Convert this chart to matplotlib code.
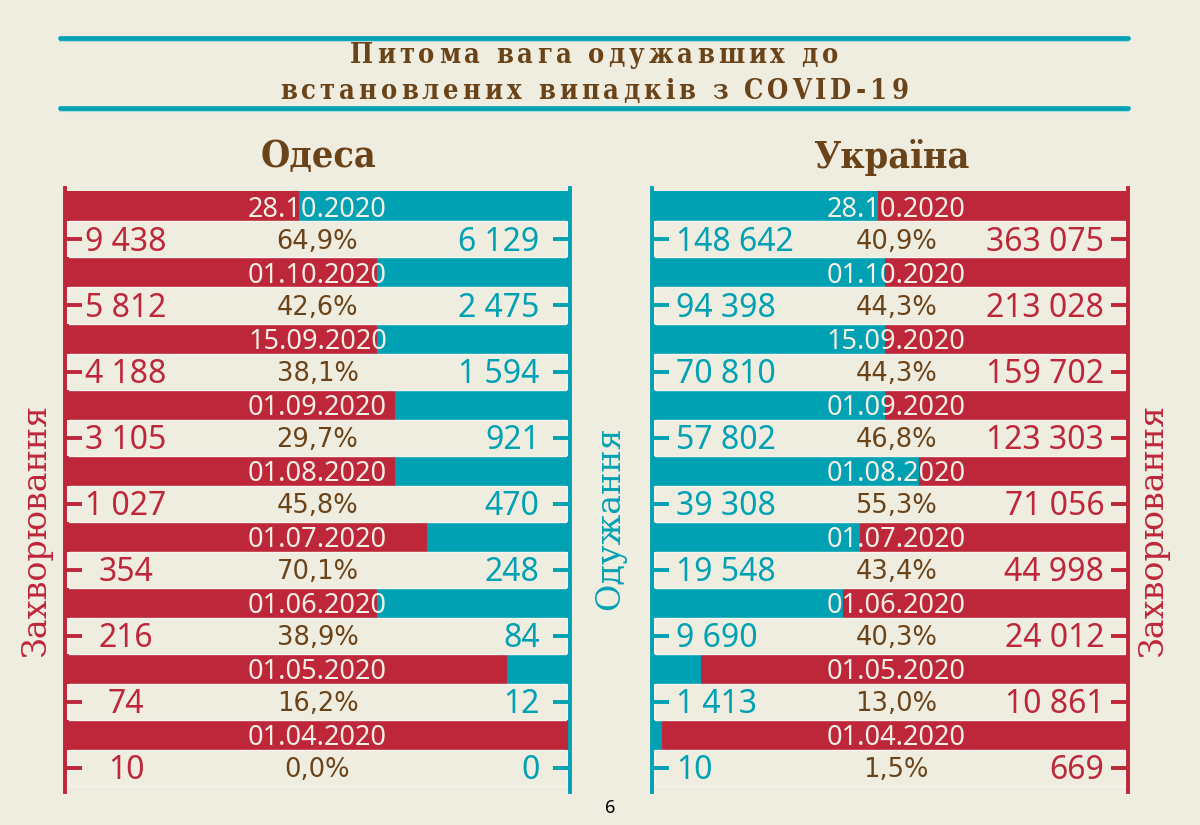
import matplotlib
matplotlib.use('Agg')
import matplotlib.pyplot as plt
import numpy as np
from matplotlib.font_manager import FontProperties
from matplotlib.transforms import IdentityTransform

# ---------------- data ----------------
dates = ['28.10.2020', '01.10.2020', '15.09.2020', '01.09.2020', '01.08.2020',
         '01.07.2020', '01.06.2020', '01.05.2020', '01.04.2020']

odesa_cases = [9438, 5812, 4188, 3105, 1027, 354, 216, 74, 10]
odesa_recovered = [6129, 2475, 1594, 921, 470, 248, 84, 12, 0]
odesa_pct = [64.9, 42.6, 38.1, 29.7, 45.8, 70.1, 38.9, 16.2, 0.0]
odesa_bar_red_share = [0.463, 0.617, 0.617, 0.653, 0.653, 0.716, 0.617, 0.875, 1.0]

ukraine_cases = [363075, 213028, 159702, 123303, 71056, 44998, 24012, 10861, 669]
ukraine_recovered = [148642, 94398, 70810, 57802, 39308, 19548, 9690, 1413, 10]
ukraine_pct = [40.9, 44.3, 44.3, 46.8, 55.3, 43.4, 40.3, 13.0, 1.5]
ukraine_bar_teal_share = [0.475, 0.49, 0.49, 0.49, 0.56, 0.436, 0.402, 0.103, 0.02]

title_lines = ['Питома вага одужавших до', 'встановлених випадків з COVID-19']
panel_titles = ['Одеса', 'Україна']
label_cases = 'Захворювання'
label_recovered = 'Одужання'
page_number = '6'

# ---------------- style ----------------
W, H = 1200, 825
BG = '#EFECE0'
RED = '#BE2639'
TEAL = '#00A1B3'
BROWN = '#6B4318'
CREAM = '#F3EFE4'
BAND_EDGE = '#F6F4EC'
NUMFONT = 'Noto Sans'


def fmt_int(n):
    return f'{n:,}'.replace(',', ' ')


def fmt_pct(p):
    return f'{p:.1f}%'.replace('.', ',')


fig = plt.figure(figsize=(W / 100, H / 100), dpi=100)
fig.patch.set_facecolor(BG)

rows = np.arange(len(dates))
BAR_H = 30 / 66
BAND_H = 36 / 66
VAL_OFF = 0.5
Y_TOP, Y_BOT = -0.28, 8.87


def make_panel(left_px, right_px, left_share, left_color, right_color,
               left_vals, right_vals, pcts, center, left_x, left_ha, right_x):
    ax = fig.add_axes([left_px / W, (H - 792) / H, (right_px - left_px) / W, (792 - 188) / H])
    ax.set_facecolor('none')
    ls = np.array(left_share)
    ax.barh(rows, ls, left=0, height=BAR_H, color=left_color, linewidth=0)
    ax.barh(rows, 1 - ls, left=ls, height=BAR_H, color=right_color, linewidth=0)
    ax.barh(rows + VAL_OFF, 0.986, left=0.007, height=BAND_H, color=BG,
            edgecolor=BAND_EDGE, linewidth=1.0)
    ax.set_xlim(0, 1)
    ax.set_ylim(Y_BOT, Y_TOP)
    ax.set_xticks([])
    ax.set_yticks(rows + VAL_OFF)
    ax.set_yticklabels([])
    ax.tick_params(axis='y', direction='in', length=12, width=2.8, left=True, right=False,
                   color=left_color)
    for s in ['top', 'bottom', 'right']:
        ax.spines[s].set_visible(False)
    ax.spines['left'].set_color(left_color)
    ax.spines['left'].set_linewidth(2.8)

    ax2 = ax.twinx()
    ax2.set_ylim(Y_BOT, Y_TOP)
    ax2.set_yticks(rows + VAL_OFF)
    ax2.set_yticklabels([])
    ax2.tick_params(axis='y', direction='in', length=12, width=2.8, left=False, right=True,
                    color=right_color)
    for s in ['top', 'bottom', 'left']:
        ax2.spines[s].set_visible(False)
    ax2.spines['right'].set_color(right_color)
    ax2.spines['right'].set_linewidth(2.8)

    for i in rows:
        ax.text(center, i + 0.155, dates[i], color=CREAM, fontsize=19.5, weight='semibold',
                family=NUMFONT, ha='center', va='baseline')
        yv = i + VAL_OFF + 0.18
        ax.text(left_x, yv, fmt_int(left_vals[i]), color=left_color, fontsize=23,
                family=NUMFONT, ha=left_ha, va='baseline')
        ax.text(right_x, yv, fmt_int(right_vals[i]), color=right_color, fontsize=23,
                family=NUMFONT, ha='right', va='baseline')
        ax.text(center, i + VAL_OFF + 0.145, fmt_pct(pcts[i]), color=BROWN, fontsize=18.5,
                family='DejaVu Sans', ha='center', va='baseline')
    return ax


make_panel(65, 570, odesa_bar_red_share, RED, TEAL, odesa_cases, odesa_recovered,
           odesa_pct, 0.5, 0.121, 'center', 0.94)
make_panel(652, 1128, ukraine_bar_teal_share, TEAL, RED, ukraine_recovered, ukraine_cases,
           ukraine_pct, 0.513, 0.05, 'left', 0.95)

# ---------------- titles ----------------
renderer = fig.canvas.get_renderer()


def spaced_text(cx, baseline_y, s, fp, color, spacing):
    def w(t):
        return renderer.get_text_width_height_descent(t, fp, ismath=False)[0]
    base = w('II')
    offs = [w('I' + s[:i] + 'I') - base for i in range(len(s) + 1)]
    total = offs[-1] + spacing * (len(s) - 1)
    x0 = cx - total / 2
    for i, ch in enumerate(s):
        if ch == ' ':
            continue
        fig.text(x0 + offs[i] + spacing * i, H - baseline_y, ch, fontproperties=fp,
                 color=color, ha='left', va='baseline', transform=IdentityTransform())


title_fp = FontProperties(family='DejaVu Serif', weight='bold', size=19.5, stretch='condensed')
spaced_text(594, 63, title_lines[0], title_fp, BROWN, 4.0)
spaced_text(594, 99, title_lines[1], title_fp, BROWN, 4.0)

for yy in (38, 108):
    fig.add_artist(plt.Line2D([60 / W, 1128 / W], [(H - yy - 3) / H] * 2, color='#A9D8DC',
                              lw=1.5, transform=fig.transFigure, solid_capstyle='round'))
    fig.add_artist(plt.Line2D([60 / W, 1128 / W], [(H - yy) / H] * 2, color=TEAL,
                              lw=3.4, transform=fig.transFigure, solid_capstyle='round'))

sub_fp = FontProperties(family='DejaVu Serif', weight='bold', size=27, stretch='condensed')
fig.text(319 / W, (H - 157) / H, panel_titles[0], fontproperties=sub_fp, color=BROWN,
         ha='center', va='center')
fig.text(891 / W, (H - 157) / H, panel_titles[1], fontproperties=sub_fp, color=BROWN,
         ha='center', va='center')

side_fp = FontProperties(family='DejaVu Serif', size=24)
fig.text(36 / W, (H - 530) / H, label_cases, fontproperties=side_fp, color=RED,
         rotation=90, ha='center', va='center')
fig.text(1153 / W, (H - 530) / H, label_cases, fontproperties=side_fp, color=RED,
         rotation=90, ha='center', va='center')
fig.text(610 / W, (H - 518) / H, label_recovered, fontproperties=side_fp, color=TEAL,
         rotation=90, ha='center', va='center')

fig.text(610 / W, (H - 808) / H, page_number, fontsize=13, family=NUMFONT, color='black',
         ha='center', va='center')

fig.savefig('out.png', dpi=100, facecolor=BG)
